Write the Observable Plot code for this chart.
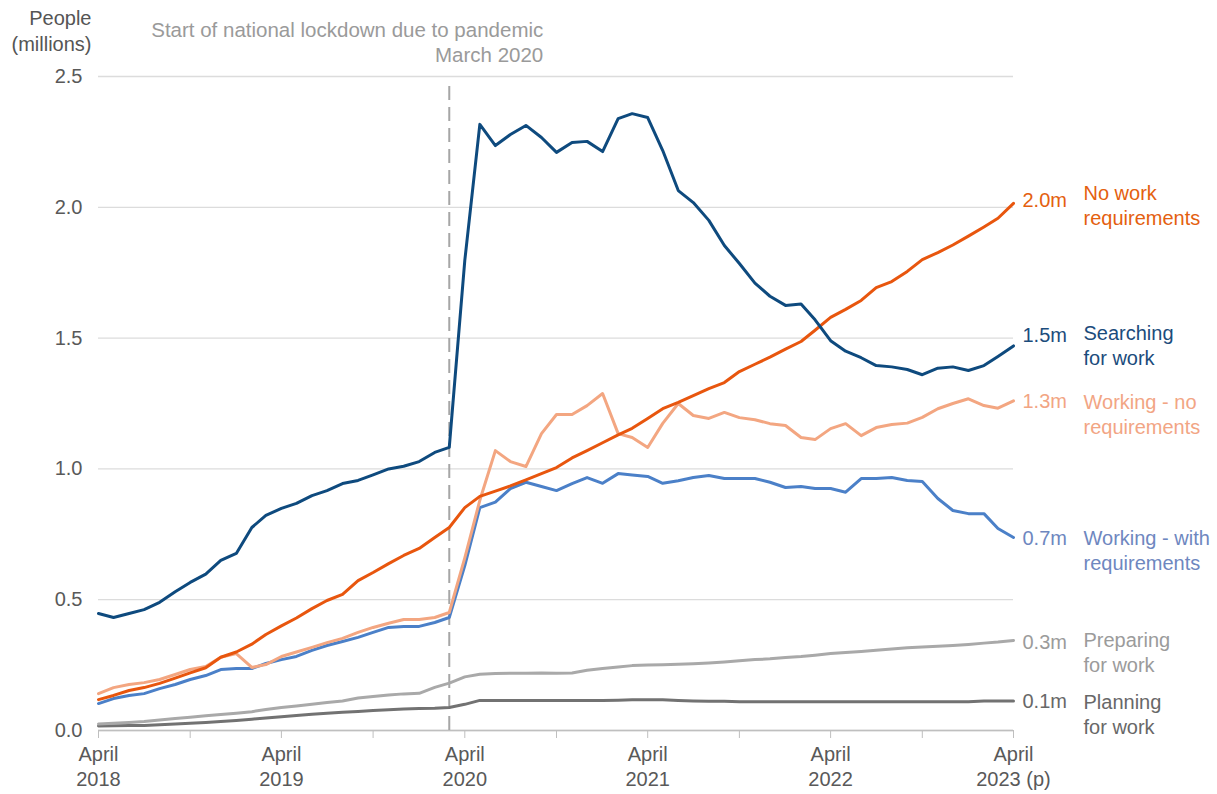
<!DOCTYPE html>
<html>
<head>
<meta charset="utf-8">
<script src="https://cdn.jsdelivr.net/npm/d3@7"></script>
<script src="https://cdn.jsdelivr.net/npm/@observablehq/plot@0.6"></script>
<style>
  body { margin: 0; background: #fff; }
</style>
</head>
<body>
<div id="chart"></div>
<script>
// Monthly observations, April 2018 to April 2023 (provisional)
const months = d3.utcMonth.range(new Date(Date.UTC(2018, 3, 1)), new Date(Date.UTC(2023, 3, 2)));
const lockdown = new Date(Date.UTC(2020, 2, 1));

// People in each conditionality group (millions)
const searching = [0.447,0.432,0.447,0.462,0.49,0.53,0.566,0.598,0.65,0.677,0.776,0.822,0.849,0.868,0.898,0.917,0.944,0.956,0.977,1.0,1.01,1.028,1.063,1.082,
  1.797,2.317,2.236,2.278,2.313,2.267,2.21,2.248,2.252,2.213,2.339,2.358,2.343,2.217,2.064,2.018,1.95,1.854,1.785,1.71,1.66,1.625,1.63,1.57,1.49,1.45,1.425,1.395,1.39,1.38,1.36,1.385,1.39,1.376,1.395,1.43,1.47];
const noWork = [0.118,0.134,0.153,0.164,0.18,0.20,0.22,0.24,0.28,0.30,0.33,0.367,0.40,0.43,0.466,0.497,0.52,0.573,0.604,0.638,0.669,0.696,0.738,0.776,
  0.852,0.895,0.915,0.935,0.958,0.982,1.005,1.042,1.07,1.10,1.13,1.155,1.193,1.23,1.254,1.28,1.307,1.33,1.372,1.40,1.427,1.458,1.487,1.53,1.579,1.61,1.644,1.693,1.716,1.755,1.80,1.827,1.856,1.89,1.925,1.958,2.015];
const workingNo = [0.141,0.164,0.176,0.183,0.195,0.214,0.233,0.245,0.28,0.294,0.241,0.252,0.283,0.30,0.318,0.336,0.352,0.375,0.394,0.41,0.424,0.424,0.432,0.451,
  0.66,0.88,1.07,1.028,1.009,1.135,1.208,1.208,1.242,1.288,1.135,1.12,1.082,1.174,1.25,1.204,1.193,1.216,1.196,1.188,1.173,1.166,1.12,1.112,1.154,1.173,1.127,1.158,1.17,1.175,1.197,1.23,1.25,1.268,1.242,1.232,1.26];
const workingWith = [0.103,0.122,0.134,0.141,0.16,0.176,0.195,0.21,0.233,0.237,0.237,0.256,0.271,0.283,0.306,0.325,0.34,0.356,0.375,0.394,0.398,0.398,0.413,0.432,
  0.63,0.852,0.873,0.925,0.949,0.933,0.917,0.944,0.967,0.945,0.982,0.977,0.971,0.945,0.955,0.967,0.975,0.963,0.963,0.963,0.949,0.929,0.933,0.925,0.925,0.911,0.963,0.963,0.967,0.956,0.952,0.887,0.841,0.829,0.829,0.772,0.738];
const preparing = [0.025,0.028,0.031,0.034,0.04,0.046,0.051,0.056,0.061,0.066,0.072,0.08,0.088,0.094,0.10,0.107,0.113,0.124,0.13,0.136,0.14,0.142,0.165,0.181,
  0.205,0.215,0.218,0.219,0.219,0.22,0.219,0.22,0.23,0.237,0.243,0.248,0.25,0.251,0.253,0.255,0.258,0.262,0.267,0.271,0.274,0.279,0.283,0.288,0.294,0.298,0.302,0.307,0.312,0.316,0.319,0.322,0.325,0.329,0.334,0.338,0.344];
const planning = [0.017,0.018,0.019,0.019,0.022,0.025,0.028,0.031,0.034,0.038,0.043,0.048,0.053,0.057,0.062,0.066,0.07,0.073,0.076,0.079,0.082,0.084,0.085,0.088,
  0.10,0.115,0.115,0.115,0.115,0.115,0.115,0.115,0.115,0.115,0.116,0.118,0.118,0.118,0.115,0.113,0.112,0.112,0.11,0.11,0.11,0.11,0.11,0.11,0.11,0.11,0.11,0.11,0.11,0.11,0.11,0.11,0.11,0.11,0.113,0.113,0.113];

const yTicks = [0, 0.5, 1, 1.5, 2, 2.5];
const xTicks = d3.utcMonth.range(months[0], new Date(Date.UTC(2023, 3, 2)), 6);

// Series styling and end-label placement (drawn bottom to top)
const series = [
  {name: "Planning\nfor work",            values: planning,    line: "#727272", text: "#686868", vShift: 1,   nShift: 0},
  {name: "Preparing\nfor work",           values: preparing,   line: "#a9a9a9", text: "#9b9b9b", vShift: 2,   nShift: -2},
  {name: "Working - with\nrequirements",  values: workingWith, line: "#4b80c8", text: "#6e87bf", vShift: 1,   nShift: 0},
  {name: "Working - no\nrequirements",    values: workingNo,   line: "#f3a681", text: "#f2a584", vShift: 1,   nShift: 0},
  {name: "No work\nrequirements",         values: noWork,      line: "#e8560e", text: "#e4600f", vShift: -3,  nShift: -11},
  {name: "Searching\nfor work",           values: searching,   line: "#0e4a7e", text: "#1b4c7c", vShift: -10, nShift: -14}
];

const fontPx = 20;
const lineH = 25 / fontPx;

const lineMarks = series.map(s =>
  Plot.lineY(s.values.map((v, i) => ({date: months[i], value: v})), {
    x: "date", y: "value", stroke: s.line, strokeWidth: 3, strokeLinejoin: "round", strokeLinecap: "round"
  })
);

const labelMarks = series.flatMap(s => {
  const last = {date: months[months.length - 1], value: s.values[s.values.length - 1]};
  return [
    Plot.text([last], {x: "date", y: "value", text: d => d.value.toFixed(1) + "m",
      dx: 9, dy: s.vShift, textAnchor: "start", fill: s.text}),
    Plot.text([last], {x: "date", y: "value", text: () => s.name,
      dx: 70, dy: s.nShift + 12.5, textAnchor: "start", lineAnchor: "middle", lineHeight: lineH, fill: s.text})
  ];
});

const xFormat = d => {
  if (d.getUTCMonth() !== 3) return "";
  const y = d.getUTCFullYear();
  return "April\n" + y + (y === 2023 ? " (p)" : "");
};

const chart = Plot.plot({
  width: 1217,
  height: 794,
  marginLeft: 98,
  marginRight: 204,
  marginTop: 76,
  marginBottom: 64,
  style: {fontFamily: "'Liberation Sans', Arial, sans-serif", fontSize: fontPx + "px", background: "#fff"},
  x: {type: "utc", domain: [months[0], months[months.length - 1]]},
  y: {domain: [0, 2.5]},
  marks: [
    Plot.gridY(yTicks, {stroke: "#dcdcdc", strokeOpacity: 1, strokeWidth: 1.3}),
    Plot.axisY(yTicks, {tickSize: 0, tickPadding: 16, tickFormat: d => d.toFixed(1), fill: "#595959", label: null}),
    Plot.axisX(xTicks, {tickSize: 8, tickPadding: 5, stroke: "#bfbfbf", fill: "#595959", tickFormat: xFormat, lineHeight: lineH, label: null}),
    Plot.ruleY([0], {stroke: "#bfbfbf", strokeWidth: 1.3}),
    Plot.ruleX([lockdown], {y1: 0, y2: 2.47, stroke: "#a6a6a6", strokeWidth: 2, strokeDasharray: "14,7"}),
    ...lineMarks,
    ...labelMarks,
    Plot.text(["Start of national lockdown due to pandemic\nMarch 2020"], {
      x: () => lockdown, frameAnchor: "top", dx: 94, dy: -35.5, textAnchor: "end", lineAnchor: "middle",
      lineHeight: 25 / 20.5, fontSize: 20.5, fill: "#9a9a9a"
    }),
    Plot.text(["People\n(millions)"], {
      frameAnchor: "top-left", dx: -7, dy: -47, textAnchor: "end", lineAnchor: "middle",
      lineHeight: 26 / fontPx, fill: "#555"
    })
  ]
});

document.getElementById("chart").append(chart);
</script>
</body>
</html>
